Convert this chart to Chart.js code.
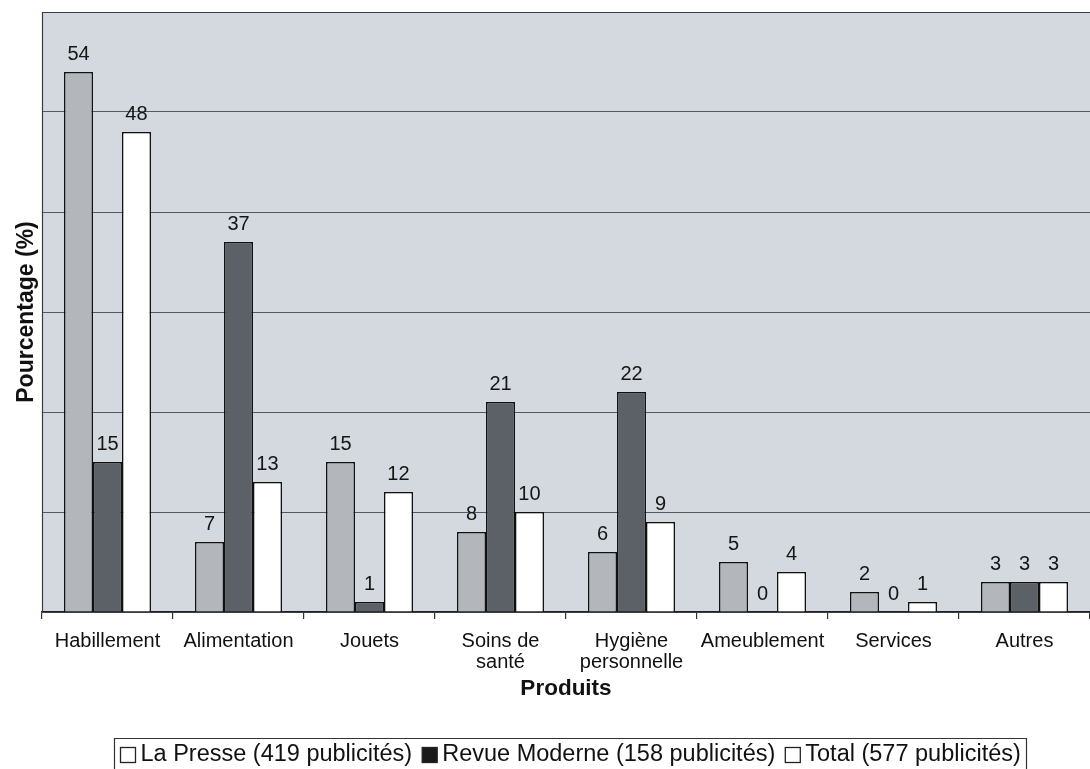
<!DOCTYPE html>
<html>
<head>
<meta charset="utf-8">
<script src="https://cdn.jsdelivr.net/npm/chart.js@4.4.1/dist/chart.umd.min.js"></script>
<style>
  html, body { margin: 0; padding: 0; background: #ffffff; }
  #wrap { width: 1090px; height: 769px; position: relative; }
</style>
</head>
<body>
<div id="wrap"><canvas id="c" width="1090" height="769"></canvas></div>
<script>
// Product categories (multi-line labels as arrays)
const categories = [
  'Habillement', 'Alimentation', 'Jouets', ['Soins de', 'santé'],
  ['Hygiène', 'personnelle'], 'Ameublement', 'Services', 'Autres'
];
// Share of advertisements per product category (%)
const laPresse     = [54, 7, 15, 8, 6, 5, 2, 3];
const revueModerne = [15, 37, 1, 21, 22, 0, 0, 3];
const total        = [48, 13, 12, 10, 9, 4, 1, 3];
// Series names
const seriesNames = [
  'La Presse (419 publicités)',
  'Revue Moderne (158 publicités)',
  'Total (577 publicités)'
];
const yTicks = [0, 10, 20, 30, 40, 50, 60];

const FONT = 'Liberation Sans, Arial, Helvetica, sans-serif';
const fills = ['#b3b7bb', '#5b6166', '#ffffff'];

// Plot-area background, frame, value labels and boxed legend
const decor = {
  id: 'decor',
  beforeDraw(chart) {
    const { ctx, chartArea: a } = chart;
    ctx.save();
    ctx.fillStyle = '#d4d9df';
    ctx.fillRect(a.left, a.top, a.right - a.left, a.bottom - a.top);
    ctx.restore();
  },
  afterDatasetsDraw(chart) {
    const { ctx, chartArea: a } = chart;
    ctx.save();
    // frame: top and left edges
    ctx.strokeStyle = '#3a3d40';
    ctx.lineWidth = 1.2;
    ctx.beginPath();
    ctx.moveTo(a.left + 0.5, a.bottom);
    ctx.lineTo(a.left + 0.5, a.top + 0.5);
    ctx.lineTo(a.right, a.top + 0.5);
    ctx.stroke();
    // value labels above the bars
    ctx.fillStyle = '#151515';
    ctx.font = '20px ' + FONT;
    ctx.textAlign = 'center';
    ctx.textBaseline = 'alphabetic';
    chart.data.datasets.forEach((ds, i) => {
      const meta = chart.getDatasetMeta(i);
      meta.data.forEach((bar, j) => {
        ctx.fillText(String(ds.data[j]), bar.x, bar.y - 12);
      });
    });
    ctx.restore();
  },
  afterDraw(chart) {
    const { ctx } = chart;
    ctx.save();
    ctx.font = '23.5px ' + FONT;
    const sq = 15, padL = 6, gapIcon = 5, gapItem = 10, padR = 6;
    const widths = seriesNames.map(n => ctx.measureText(n).width);
    const inner = widths.reduce((s, w) => s + w, 0) +
      seriesNames.length * (sq + gapIcon) + (seriesNames.length - 1) * gapItem;
    const boxW = padL + inner + padR;
    const cx = 570;
    const boxL = Math.round(cx - boxW / 2) + 0.5, boxR = boxL + Math.round(boxW);
    const boxT = 738.5, boxB = 769;
    ctx.strokeStyle = '#333';
    ctx.lineWidth = 1.2;
    ctx.beginPath();
    ctx.moveTo(boxL, boxB);
    ctx.lineTo(boxL, boxT);
    ctx.lineTo(boxR, boxT);
    ctx.lineTo(boxR, boxB);
    ctx.stroke();
    ctx.textBaseline = 'middle';
    ctx.textAlign = 'left';
    const cy = 755;
    let x = boxL + padL;
    seriesNames.forEach((name, i) => {
      ctx.fillStyle = i === 1 ? '#1a1a1a' : '#ffffff';
      ctx.fillRect(x, cy - sq / 2, sq, sq);
      ctx.strokeStyle = '#222';
      ctx.lineWidth = 1.3;
      ctx.strokeRect(x, cy - sq / 2, sq, sq);
      ctx.fillStyle = '#111';
      ctx.fillText(name, x + sq + gapIcon, cy);
      x += sq + gapIcon + widths[i] + gapItem;
    });
    ctx.restore();
  }
};

const mk = (label, data, i) => ({
  label, data,
  backgroundColor: fills[i],
  borderColor: '#111',
  borderWidth: 1.5,
  borderSkipped: 'bottom',
  categoryPercentage: 0.664,
  barPercentage: 1.0
});

new Chart(document.getElementById('c'), {
  type: 'bar',
  data: {
    labels: categories,
    datasets: [
      mk(seriesNames[0], laPresse, 0),
      mk(seriesNames[1], revueModerne, 1),
      mk(seriesNames[2], total, 2)
    ]
  },
  options: {
    responsive: false,
    animation: false,
    devicePixelRatio: 1,
    layout: { padding: { top: 12, left: 0, right: 0, bottom: 66 } },
    plugins: { legend: { display: false }, tooltip: { enabled: false } },
    scales: {
      x: {
        afterFit(s) { s.height = 91; },
        border: { color: '#222', width: 1.5 },
        grid: {
          offset: true, drawOnChartArea: false, drawTicks: true,
          tickLength: 7, color: '#333', lineWidth: 1.2
        },
        ticks: {
          color: '#111', font: { family: FONT, size: 20, lineHeight: 1.05 },
          padding: 12, maxRotation: 0, autoSkip: false
        },
        title: {
          display: true, text: 'Produits', color: '#111',
          font: { family: FONT, size: 22.5, weight: 'bold' },
          padding: { top: 0, bottom: 1 }
        }
      },
      y: {
        min: yTicks[0], max: yTicks[yTicks.length - 1],
        afterFit(s) { s.width = 42; },
        afterBuildTicks(s) { s.ticks = yTicks.map(v => ({ value: v })); },
        border: { display: false },
        grid: { color: '#55595d', lineWidth: 1, drawTicks: false },
        ticks: { display: false },
        title: {
          display: true, text: 'Pourcentage (%)', color: '#111',
          font: { family: FONT, size: 23, weight: 'bold' },
          padding: { top: 13, bottom: 0 }
        }
      }
    }
  },
  plugins: [decor]
});
</script>
</body>
</html>
